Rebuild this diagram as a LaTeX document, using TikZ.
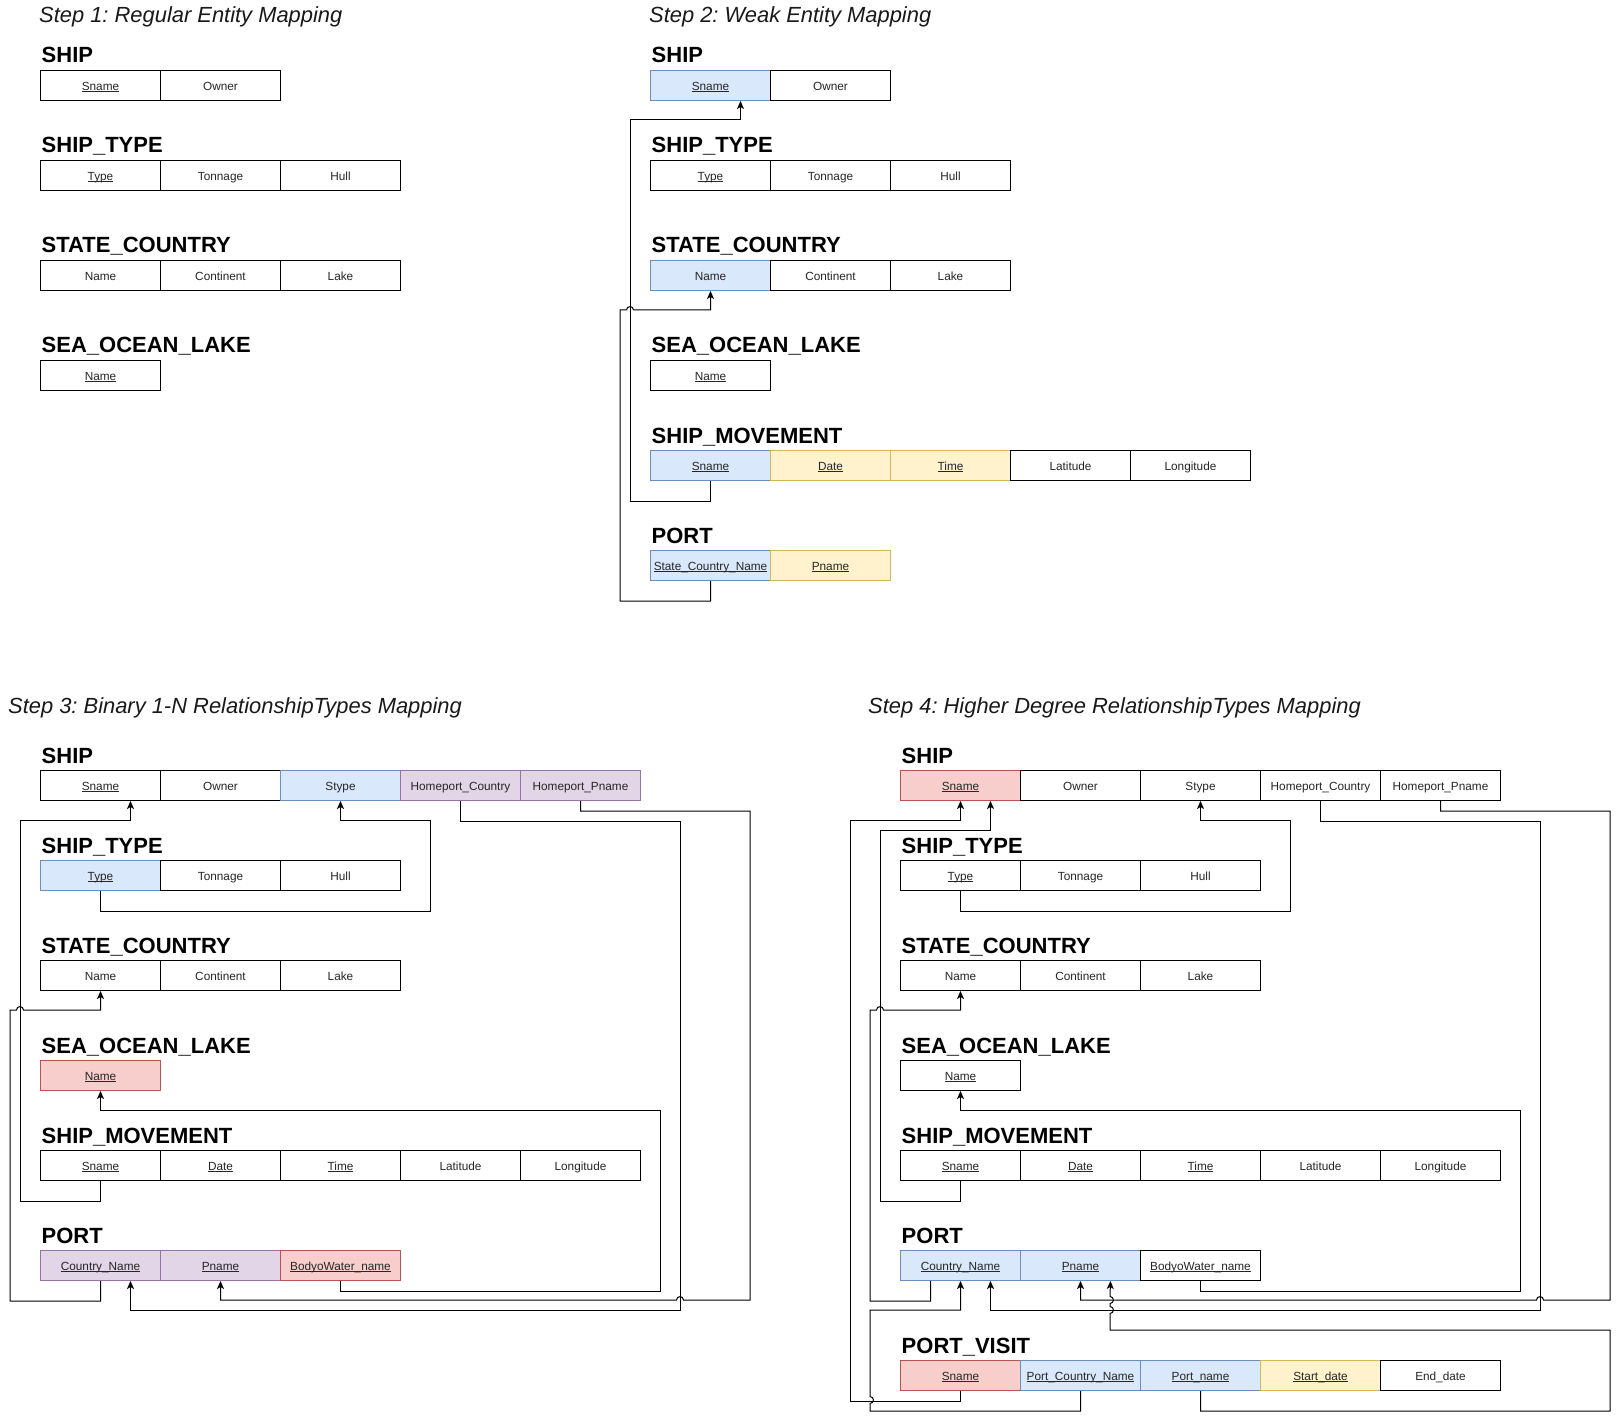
\documentclass[tikz,border=0pt]{standalone}
\usepackage{fontspec}
\setmainfont{Liberation Sans}
\frenchspacing
\usetikzlibrary{arrows.meta,calc}
\definecolor{bfill}{HTML}{DAE8FC}\definecolor{bline}{HTML}{6C8EBF}
\definecolor{yfill}{HTML}{FFF2CC}\definecolor{yline}{HTML}{D6B656}
\definecolor{rfill}{HTML}{F8CECC}\definecolor{rline}{HTML}{B85450}
\definecolor{pfill}{HTML}{E1D5E7}\definecolor{pline}{HTML}{9673A6}
\newcommand\uln[1]{\setbox0\hbox{#1}\rlap{\rule[-1.6pt]{\wd0}{0.7pt}}\box0}
\tikzset{
  cell/.style={draw=black, line width=1pt, minimum width=120pt, minimum height=30pt,
    anchor=north west, inner sep=0pt, text=black!85, text height=9.4pt, text depth=0pt,
    font=\fontsize{11.8}{14}\selectfont},
  cellW/.style={fill=white},
  cellB/.style={fill=bfill, draw=bline},
  cellY/.style={fill=yfill, draw=yline},
  cellR/.style={fill=rfill, draw=rline},
  cellP/.style={fill=pfill, draw=pline},
  tlabel/.style={anchor=base west, inner sep=0pt, font=\fontsize{22}{26}\selectfont\bfseries},
  steptitle/.style={anchor=base west, inner sep=0pt, text=black!90, font=\fontsize{21.9}{26}\selectfont\itshape},
  conn/.style={draw=black, line width=1pt},
  arr/.style={conn, -{Stealth[length=8pt,width=7pt,inset=2pt]}},
}
\newcommand{\tbl}[5]{%
  \node[tlabel] (#1L) at (#2+1.5,#3-7) {#4};
  \foreach \st/\tx [count=\i] in {#5} {
    \node[cell, \st] (#1\i) at ({#2+120*(\i-1)},#3) {\tx};
  }
}
\begin{document}
\begin{tikzpicture}[x=1pt,y=-1pt]
\useasboundingbox[fill=white] (0,0) rectangle (1620,1420);

% ---------------- Step 1 ----------------
\node[steptitle] (t1) at (39,23) {Step 1: Regular Entity Mapping};
\tbl{sa}{40}{70}{SHIP}{cellW/\uln{Sname}, cellW/Owner}
\tbl{sb}{40}{160}{SHIP\_TYPE}{cellW/\uln{Type}, cellW/Tonnage, cellW/Hull}
\tbl{sc}{40}{260}{STATE\_COUNTRY}{cellW/Name, cellW/Continent, cellW/Lake}
\tbl{sd}{40}{360}{SEA\_OCEAN\_LAKE}{cellW/\uln{Name}}

% ---------------- Step 2 ----------------
\node[steptitle] (t2) at (649,23) {Step 2: Weak Entity Mapping};
\tbl{ta}{650}{70}{SHIP}{cellB/\uln{Sname}, cellW/Owner}
\tbl{tb}{650}{160}{SHIP\_TYPE}{cellW/\uln{Type}, cellW/Tonnage, cellW/Hull}
\tbl{tc}{650}{260}{STATE\_COUNTRY}{cellB/Name, cellW/Continent, cellW/Lake}
\tbl{td}{650}{360}{SEA\_OCEAN\_LAKE}{cellW/\uln{Name}}
\tbl{te}{650}{450}{SHIP\_MOVEMENT}{cellB/\uln{Sname}, cellY/\uln{Date}, cellY/\uln{Time}, cellW/Latitude, cellW/Longitude}
\tbl{tf}{650}{550}{PORT}{cellB/\uln{State\_Country\_Name}, cellY/\uln{Pname}}

\draw[arr] (te1.south) -- ++(0,20) -| (630,120) -| ($(ta1.south)+(30,0)$);
\draw[arr] (tf1.south) -- ++(0,20) -| (620,310) -- (626.5,310)
  .. controls (626.5,305.5) and (633.5,305.5) .. (633.5,310) -| (tc1.south);

% ---------------- Step 3 ----------------
\node[steptitle] (t3) at (8,713) {Step 3: Binary 1-N RelationshipTypes Mapping};
\tbl{ua}{40}{770}{SHIP}{cellW/\uln{Sname}, cellW/Owner, cellB/Stype, cellP/Homeport\_Country, cellP/Homeport\_Pname}
\tbl{ub}{40}{860}{SHIP\_TYPE}{cellB/\uln{Type}, cellW/Tonnage, cellW/Hull}
\tbl{uc}{40}{960}{STATE\_COUNTRY}{cellW/Name, cellW/Continent, cellW/Lake}
\tbl{ud}{40}{1060}{SEA\_OCEAN\_LAKE}{cellR/\uln{Name}}
\tbl{ue}{40}{1150}{SHIP\_MOVEMENT}{cellW/\uln{Sname}, cellW/\uln{Date}, cellW/\uln{Time}, cellW/Latitude, cellW/Longitude}
\tbl{uf}{40}{1250}{PORT}{cellP/\uln{Country\_Name}, cellP/\uln{Pname}, cellR/\uln{BodyoWater\_name}}

\draw[arr] (ue1.south) -- ++(0,20) -| (20,820) -| ($(ua1.south)+(30,0)$);
\draw[arr] (ub1.south) -- ++(0,20) -| (430,820) -| (ua3.south);
\draw[arr] (uf1.south) -- ++(0,20) -| (10,1010) -- (16.5,1010)
  .. controls (16.5,1005.5) and (23.5,1005.5) .. (23.5,1010) -| (uc1.south);
\draw[arr] (uf3.south) -- ++(0,10) -| (660,1110) -| (ud1.south);
\draw[arr] (ua4.south) -- ++(0,20) -| (680,1310) -| ($(uf1.south)+(30,0)$);
\draw[arr] (ua5.south) -- ++(0,10) -| (750,1300) -- (683.5,1300)
  .. controls (683.5,1295.5) and (676.5,1295.5) .. (676.5,1300) -| (uf2.south);

% ---------------- Step 4 ----------------
\node[steptitle] (t4) at (868,713) {Step 4: Higher Degree RelationshipTypes Mapping};
\tbl{va}{900}{770}{SHIP}{cellR/\uln{Sname}, cellW/Owner, cellW/Stype, cellW/Homeport\_Country, cellW/Homeport\_Pname}
\tbl{vb}{900}{860}{SHIP\_TYPE}{cellW/\uln{Type}, cellW/Tonnage, cellW/Hull}
\tbl{vc}{900}{960}{STATE\_COUNTRY}{cellW/Name, cellW/Continent, cellW/Lake}
\tbl{vd}{900}{1060}{SEA\_OCEAN\_LAKE}{cellW/\uln{Name}}
\tbl{ve}{900}{1150}{SHIP\_MOVEMENT}{cellW/\uln{Sname}, cellW/\uln{Date}, cellW/\uln{Time}, cellW/Latitude, cellW/Longitude}
\tbl{vf}{900}{1250}{PORT}{cellB/\uln{Country\_Name}, cellB/\uln{Pname}, cellW/\uln{BodyoWater\_name}}
\tbl{vg}{900}{1360}{PORT\_VISIT}{cellR/\uln{Sname}, cellB/\uln{Port\_Country\_Name}, cellB/\uln{Port\_name}, cellY/\uln{Start\_date}, cellW/End\_date}

\draw[arr] (ve1.south) -- ++(0,20) -| (880,830) -| ($(va1.south)+(30,0)$);
\draw[arr] (vb1.south) -- ++(0,20) -| (1290,820) -| (va3.south);
\draw[arr] ($(vf1.south)+(-30,0)$) -- ++(0,20) -| (870,1010) -- (876.5,1010)
  .. controls (876.5,1005.5) and (883.5,1005.5) .. (883.5,1010) -| (vc1.south);
\draw[arr] (vf3.south) -- ++(0,10) -| (1520,1110) -| (vd1.south);
\draw[arr] (va4.south) -- ++(0,20) -| (1540,1310) -| ($(vf1.south)+(30,0)$);
\draw[arr] (va5.south) -- ++(0,10) -| (1610,1300) -- (1543.5,1300)
  .. controls (1543.5,1295.5) and (1536.5,1295.5) .. (1536.5,1300) -| (vf2.south);
\draw[arr] (vg1.south) -- ++(0,10) -| (850,820) -| (va1.south);
\draw[arr] (vg2.south) -- ++(0,20) -| (870,1403.5)
  .. controls (874.5,1403.5) and (874.5,1396.5) .. (870,1396.5) -- (870,1310) -| (vf1.south);
\draw[arr] (vg3.south) -- ++(0,20) -| (1610,1330) -| (1110,1313.5)
  .. controls (1114.5,1313.5) and (1114.5,1306.5) .. (1110,1306.5) -- (1110,1303.5)
  .. controls (1114.5,1303.5) and (1114.5,1296.5) .. (1110,1296.5) -- ($(vf2.south)+(30,0)$);
\end{tikzpicture}
\end{document}
